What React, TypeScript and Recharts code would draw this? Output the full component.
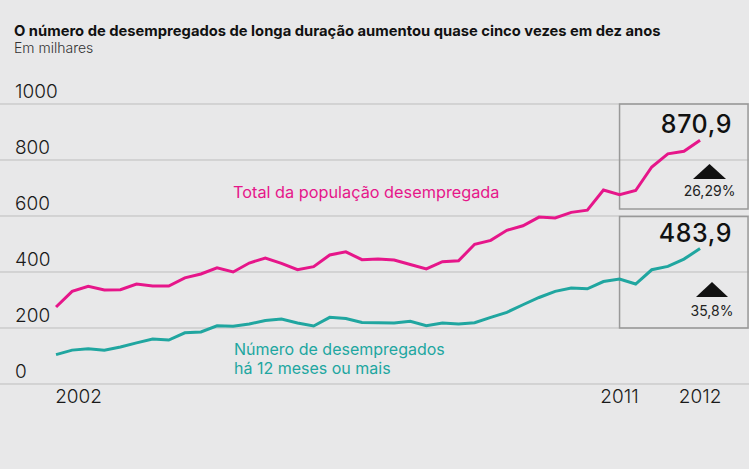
import { LineChart, Line, XAxis, YAxis, CartesianGrid, ReferenceArea } from "recharts";

// Trimestres de 2002 a 2012 (41 pontos)
const trimestres = [
  "2002 T1", "2002 T2", "2002 T3", "2002 T4",
  "2003 T1", "2003 T2", "2003 T3", "2003 T4",
  "2004 T1", "2004 T2", "2004 T3", "2004 T4",
  "2005 T1", "2005 T2", "2005 T3", "2005 T4",
  "2006 T1", "2006 T2", "2006 T3", "2006 T4",
  "2007 T1", "2007 T2", "2007 T3", "2007 T4",
  "2008 T1", "2008 T2", "2008 T3", "2008 T4",
  "2009 T1", "2009 T2", "2009 T3", "2009 T4",
  "2010 T1", "2010 T2", "2010 T3", "2010 T4",
  "2011 T1", "2011 T2", "2011 T3", "2011 T4",
  "2012 T1",
];

const totalDesempregados = [
  275, 331, 349, 336, 337, 357, 350, 350, 379, 393,
  415, 400, 432, 450, 431, 408, 419, 461, 472, 444,
  446, 443, 427, 411, 437, 440, 499, 513, 549, 565,
  596, 593, 613, 621, 693, 676, 691, 775, 822, 831,
  870.9,
];

const longaDuracao = [
  105, 121, 126, 121, 132, 147, 161, 157, 183, 186,
  208, 206, 214, 227, 232, 218, 207, 238, 234, 220,
  219, 218, 224, 208, 218, 214, 219, 238, 256, 283,
  309, 331, 343, 340, 366, 375, 357, 408, 420, 446,
  483.9,
];

const yTicks = [0, 200, 400, 600, 800, 1000];
const xTicks = [1.4, 35, 40];
const xTickLabels = ["2002", "2011", "2012"];

const data = trimestres.map((t, i) => ({
  i,
  trimestre: t,
  total: totalDesempregados[i],
  longa: longaDuracao[i],
}));

const PINK = "#e6168a";
const TEAL = "#20a6a0";
const FONT = "Inter, 'Noto Sans', sans-serif";

const YTick = (props: any) => (
  <text x={15} y={props.y - 6} fontSize={19} fontWeight={300} fill="#1a1a1a" fontFamily={FONT}>
    {props.payload.value}
  </text>
);

const XTick = (props: any) => {
  const idx = xTicks.indexOf(props.payload.value);
  return (
    <text x={props.x} y={403} textAnchor="middle" fontSize={19} fontWeight={300} fill="#1a1a1a" fontFamily={FONT}>
      {xTickLabels[idx]}
    </text>
  );
};

export default function App() {
  return (
    <div style={{ position: "fixed", left: 0, top: 0, width: 749, height: 469, background: "#e8e8e9", fontFamily: FONT }}>
      <LineChart width={749} height={469} data={data} margin={{ top: 104, right: 0, bottom: 0, left: 0 }}>
        <CartesianGrid horizontal vertical={false} stroke="#bdbdbd" strokeWidth={1} />
        <XAxis
          type="number"
          dataKey="i"
          domain={[-3.48, 43.04]}
          ticks={xTicks}
          allowDataOverflow
          axisLine={false}
          tickLine={false}
          height={85}
          tick={<XTick />}
          interval={0}
        />
        <YAxis
          domain={[0, 1000]}
          ticks={yTicks}
          mirror
          width={60}
          axisLine={false}
          tickLine={false}
          tick={<YTick />}
          interval={0}
        />
        <ReferenceArea x1={35} x2={42.98} y1={625} y2={1000} fill="none" stroke="#999" strokeWidth={1.5} ifOverflow="visible" />
        <ReferenceArea x1={35} x2={42.98} y1={200} y2={598} fill="none" stroke="#999" strokeWidth={1.5} ifOverflow="visible" />
        <Line type="linear" dataKey="total" stroke={PINK} strokeWidth={3} dot={false} isAnimationActive={false} />
        <Line type="linear" dataKey="longa" stroke={TEAL} strokeWidth={3} dot={false} isAnimationActive={false} />
      </LineChart>
      <svg width={749} height={469} style={{ position: "absolute", left: 0, top: 0, pointerEvents: "none" }}>
        <text x={14} y={36} fontSize={14.75} fontWeight={700} fill="#111" fontFamily={FONT}>
          O número de desempregados de longa duração aumentou quase cinco vezes em dez anos
        </text>
        <text x={14} y={53} fontSize={14} fontWeight={300} fill="#333" fontFamily={FONT}>
          Em milhares
        </text>
        <text x={233} y={198} fontSize={16.3} fill={PINK} fontFamily={FONT}>
          Total da população desempregada
        </text>
        <text x={234} y={355} fontSize={16} fill={TEAL} fontFamily={FONT}>
          Número de desempregados
        </text>
        <text x={234} y={374} fontSize={16} fill={TEAL} fontFamily={FONT}>
          há 12 meses ou mais
        </text>
        <text x={732} y={133} textAnchor="end" fontSize={25} fontWeight={500} letterSpacing={0.6} fill="#111" fontFamily={FONT}>
          870,9
        </text>
        <polygon points="693,179 726,179 709.5,164" fill="#111" />
        <text x={709.5} y={196} textAnchor="middle" fontSize={14} fill="#222" fontFamily={FONT}>
          26,29%
        </text>
        <text x={732} y={242} textAnchor="end" fontSize={25} fontWeight={500} letterSpacing={0.6} fill="#111" fontFamily={FONT}>
          483,9
        </text>
        <polygon points="696,297 728,297 712,282" fill="#111" />
        <text x={712} y={316} textAnchor="middle" fontSize={14} fill="#222" fontFamily={FONT}>
          35,8%
        </text>
      </svg>
    </div>
  );
}
